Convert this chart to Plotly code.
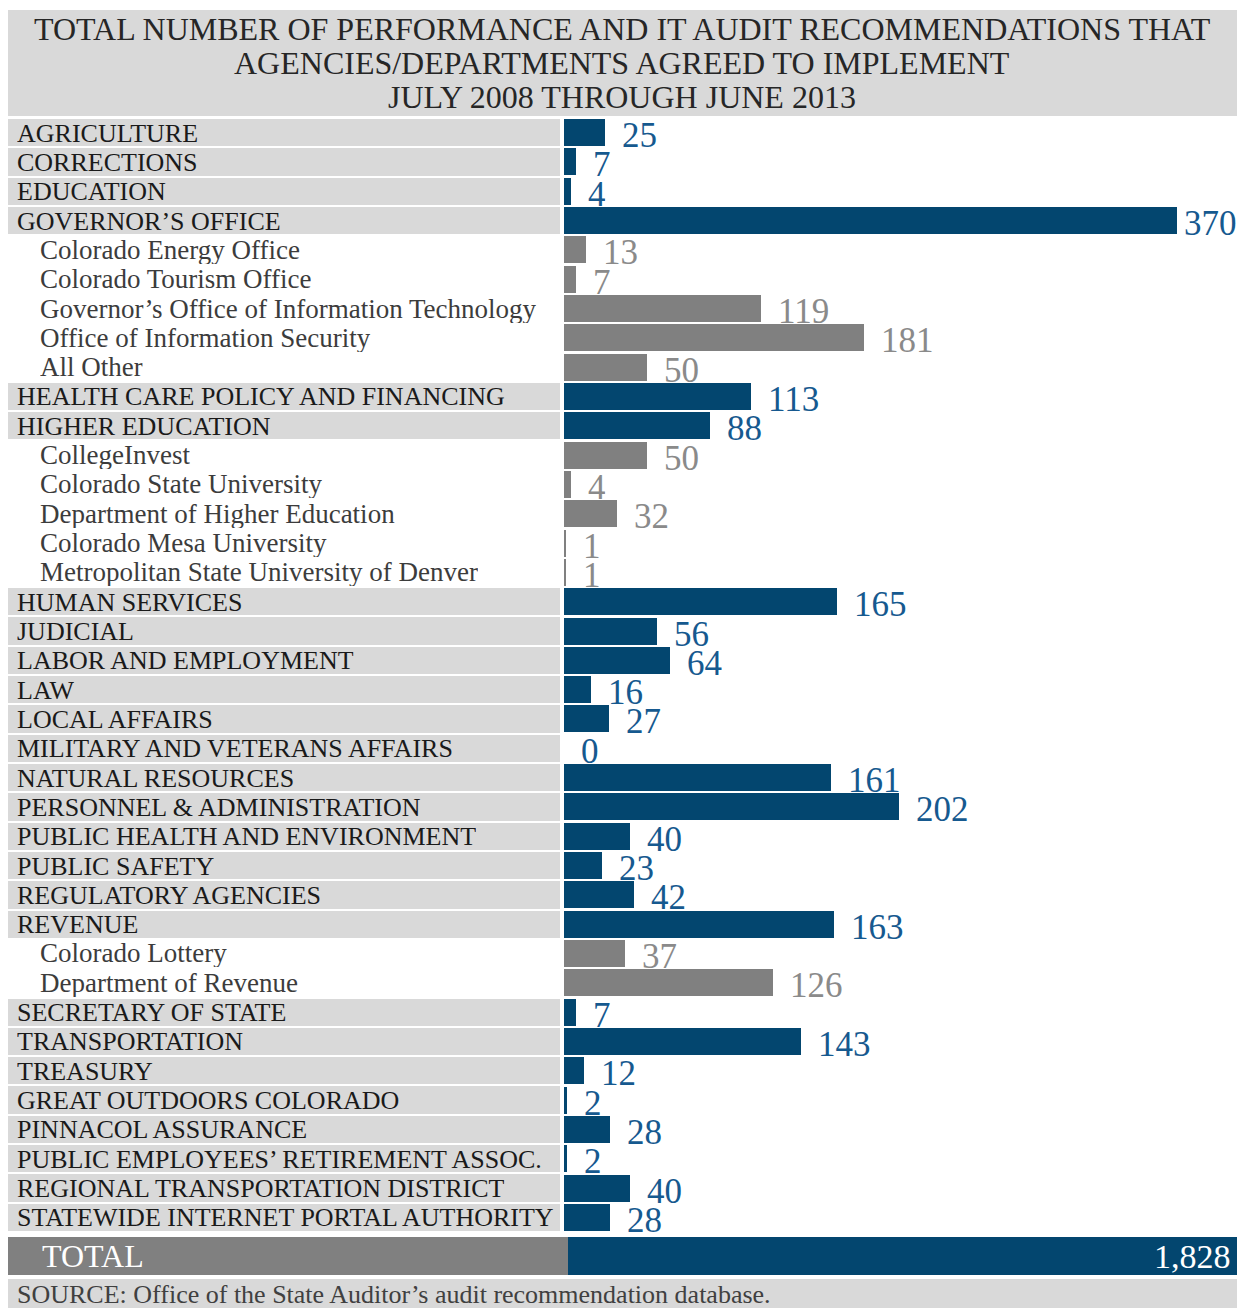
import plotly.graph_objects as go

categories = [
    "AGRICULTURE", "CORRECTIONS", "EDUCATION", "GOVERNOR’S OFFICE",
    "Colorado Energy Office", "Colorado Tourism Office",
    "Governor’s Office of Information Technology", "Office of Information Security",
    "All Other", "HEALTH CARE POLICY AND FINANCING", "HIGHER EDUCATION",
    "CollegeInvest", "Colorado State University", "Department of Higher Education",
    "Colorado Mesa University", "Metropolitan State University of Denver",
    "HUMAN SERVICES", "JUDICIAL", "LABOR AND EMPLOYMENT", "LAW", "LOCAL AFFAIRS",
    "MILITARY AND VETERANS AFFAIRS", "NATURAL RESOURCES", "PERSONNEL & ADMINISTRATION",
    "PUBLIC HEALTH AND ENVIRONMENT", "PUBLIC SAFETY", "REGULATORY AGENCIES", "REVENUE",
    "Colorado Lottery", "Department of Revenue", "SECRETARY OF STATE", "TRANSPORTATION",
    "TREASURY", "GREAT OUTDOORS COLORADO", "PINNACOL ASSURANCE",
    "PUBLIC EMPLOYEES’ RETIREMENT ASSOC.", "REGIONAL TRANSPORTATION DISTRICT",
    "STATEWIDE INTERNET PORTAL AUTHORITY",
]
values = [25, 7, 4, 370, 13, 7, 119, 181, 50, 113, 88, 50, 4, 32, 1, 1,
          165, 56, 64, 16, 27, 0, 161, 202, 40, 23, 42, 163, 37, 126, 7, 143,
          12, 2, 28, 2, 40, 28]
# 0 = agency / department, 1 = sub-unit
levels = [0, 0, 0, 0, 1, 1, 1, 1, 1, 0, 0, 1, 1, 1, 1, 1,
          0, 0, 0, 0, 0, 0, 0, 0, 0, 0, 0, 0, 1, 1, 0, 0,
          0, 0, 0, 0, 0, 0]
title_lines = [
    "TOTAL NUMBER OF PERFORMANCE AND IT AUDIT RECOMMENDATIONS THAT",
    "AGENCIES/DEPARTMENTS AGREED TO IMPLEMENT",
    "JULY 2008 THROUGH JUNE 2013",
]
total_label = "TOTAL"
total_value = 1828
source_text = "SOURCE: Office of the State Auditor’s audit recommendation database."

W, H = 1237, 1308
FONT = "Liberation Serif"
BLUE = "#03466f"
BLUE_TXT = "#16598f"
GRAY_BAR = "#808080"
GRAY_TXT = "#8a8a8a"
BAND = "#d9d9d9"
DARK = "#1a1a1a"


def fx(p):
    return p / W


def fy(p):
    return 1 - p / H


n = len(categories)
fig = go.Figure()

# label column backgrounds
fig.add_trace(go.Bar(
    y=categories, x=[1] * n, orientation="h", xaxis="x2", yaxis="y",
    marker=dict(color=[BAND if l == 0 else "white" for l in levels], line=dict(width=0)),
    width=0.93, hoverinfo="skip", showlegend=False,
))
# value bars
fig.add_trace(go.Bar(
    y=categories, x=values, orientation="h", xaxis="x", yaxis="y",
    marker=dict(color=[BLUE if l == 0 else GRAY_BAR for l in levels], line=dict(width=0)),
    width=0.92, hoverinfo="skip", showlegend=False,
))
# total row
fig.add_trace(go.Bar(
    y=[total_label], x=[1], orientation="h", xaxis="x4", yaxis="y3",
    marker=dict(color=GRAY_BAR, line=dict(width=0)), width=1,
    hoverinfo="skip", showlegend=False,
))
fig.add_trace(go.Bar(
    y=[total_label], x=[total_value], orientation="h", xaxis="x3", yaxis="y4",
    marker=dict(color=BLUE, line=dict(width=0)), width=1,
    hoverinfo="skip", showlegend=False,
))

px_per_unit = (1177 - 564) / 370
x_max = (W - 564) / px_per_unit

ann = []
for c, v, l in zip(categories, values, levels):
    ann.append(dict(
        x=fx(15 if l == 0 else 38), xref="paper", y=c, yref="y",
        text=c, showarrow=False, xanchor="left", yanchor="middle", height=28,
        font=dict(family=FONT, size=26 if l == 0 else 27, color=DARK if l == 0 else "#3c3c3c"),
    ))
    room = (x_max - v) * px_per_unit - 10 * len(f"{v}") * 1.75
    shift = 15 if room > 15 else 5
    ann.append(dict(
        x=v, xref="x", y=c, yref="y", text=f"{v:,}", showarrow=False,
        xanchor="left", yanchor="middle", xshift=shift, yshift=-3, height=29,
        font=dict(family=FONT, size=35, color=BLUE_TXT if l == 0 else GRAY_TXT),
    ))
for i, (line, yc) in enumerate(zip(title_lines, [29, 63, 97])):
    ann.append(dict(
        x=fx(622), xref="paper", y=fy(yc), yref="paper", text=line,
        showarrow=False, xanchor="center", yanchor="middle",
        font=dict(family=FONT, size=32, color="#262626"),
    ))
ann.append(dict(
    x=fx(40), xref="paper", y=total_label, yref="y3", text=total_label, showarrow=False,
    xanchor="left", yanchor="middle", font=dict(family=FONT, size=32, color="white"),
))
ann.append(dict(
    x=total_value, xref="x3", y=total_label, yref="y4", text=f"{total_value:,}", showarrow=False,
    xanchor="right", yanchor="middle", xshift=-4,
    font=dict(family=FONT, size=34, color="white"),
))
ann.append(dict(
    x=fx(15), xref="paper", y=fy(1294), yref="paper", text=source_text, showarrow=False,
    xanchor="left", yanchor="middle", font=dict(family=FONT, size=26, color="#404040"),
))

shapes = [
    dict(type="rect", xref="paper", yref="paper", x0=fx(8), x1=1, y0=fy(116), y1=fy(10),
         fillcolor=BAND, line=dict(width=0), layer="below"),
    dict(type="rect", xref="paper", yref="paper", x0=fx(8), x1=1, y0=fy(1308), y1=fy(1279),
         fillcolor=BAND, line=dict(width=0), layer="below"),
]

hidden = dict(showgrid=False, zeroline=False, showticklabels=False, showline=False, ticks="")
fig.update_layout(
    width=W, height=H, margin=dict(l=0, r=0, t=0, b=0),
    paper_bgcolor="white", plot_bgcolor="rgba(0,0,0,0)",
    bargap=0, showlegend=False,
    xaxis=dict(domain=[fx(564), 1], range=[0, x_max], anchor="y", **hidden),
    xaxis2=dict(domain=[fx(8), fx(560)], range=[0, 1], anchor="y", **hidden),
    xaxis3=dict(domain=[fx(568), 1], range=[0, total_value], anchor="y4", **hidden),
    xaxis4=dict(domain=[fx(8), fx(568)], range=[0, 1], anchor="y3", **hidden),
    yaxis=dict(domain=[fy(1232), fy(118)], type="category", categoryorder="array",
               categoryarray=categories, range=[n - 0.5, -0.5], anchor="x", **hidden),
    yaxis3=dict(domain=[fy(1275), fy(1237)], type="category", range=[-0.5, 0.5], anchor="x4", **hidden),
    yaxis4=dict(domain=[fy(1275), fy(1237)], type="category", range=[-0.5, 0.5], anchor="x3", **hidden),
    annotations=ann, shapes=shapes,
)

fig.write_html("out.html")
